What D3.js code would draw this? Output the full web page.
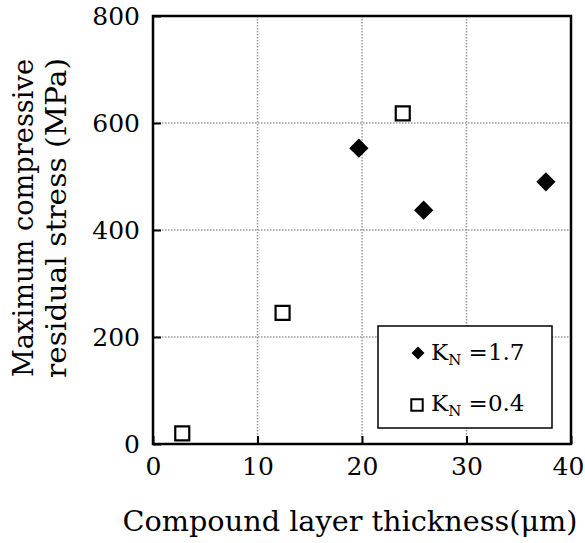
<!DOCTYPE html>
<html>
<head>
<meta charset="utf-8">
<script src="https://cdn.jsdelivr.net/npm/d3@7"></script>
<style>
  body { margin: 0; background: #fff; }
  text { font-family: "DejaVu Serif", "Liberation Serif", serif; fill: #000; }
</style>
</head>
<body>
<div id="chart"></div>
<script>
// Data
const seriesNames = ["K_N=1.7", "K_N=0.4"];
const thickHigh = [19.7, 25.9, 37.6];     // K_N = 1.7 (filled diamonds)
const stressHigh = [553, 437, 490];
const thickLow = [2.8, 12.4, 23.9];       // K_N = 0.4 (open squares)
const stressLow = [20, 245, 618];
const xTicks = [0, 10, 20, 30, 40];
const yTicks = [0, 200, 400, 600, 800];

const W = 585, H = 543;
const margin = { top: 16, right: 14, bottom: 99, left: 153 };
const width = W - margin.left - margin.right;
const height = H - margin.top - margin.bottom;

const svg = d3.select("#chart")
    .append("svg")
    .attr("width", W)
    .attr("height", H);

const g = svg.append("g")
    .attr("transform", `translate(${margin.left},${margin.top})`);

const x = d3.scaleLinear().domain([0, 40]).range([0, width]);
const y = d3.scaleLinear().domain([0, 800]).range([height, 0]);

// Dotted grid
g.selectAll(".gx")
    .data(xTicks.slice(1, -1))
    .enter().append("line")
    .attr("x1", d => x(d)).attr("x2", d => x(d))
    .attr("y1", 0).attr("y2", height)
    .attr("stroke", "#999").attr("stroke-width", 1.5)
    .attr("stroke-dasharray", "1.5,1.5");

g.selectAll(".gy")
    .data(yTicks.slice(1, -1))
    .enter().append("line")
    .attr("x1", 0).attr("x2", width)
    .attr("y1", d => y(d)).attr("y2", d => y(d))
    .attr("stroke", "#999").attr("stroke-width", 1.5)
    .attr("stroke-dasharray", "1.5,1.5");

// Axes (ticks pointing inward)
const xAxis = g.append("g")
    .attr("transform", `translate(0,${height})`)
    .call(d3.axisBottom(x).tickValues(xTicks).tickSizeInner(-8).tickSizeOuter(0).tickPadding(26));
const yAxis = g.append("g")
    .call(d3.axisLeft(y).tickValues(yTicks).tickSizeInner(-8).tickSizeOuter(0).tickPadding(13));

[xAxis, yAxis].forEach(a => {
    a.select(".domain").remove();
    a.selectAll("line").attr("stroke", "#000").attr("stroke-width", 2);
    a.selectAll("text")
        .style("font-family", "\"DejaVu Serif\", serif")
        .style("font-size", "25px")
        .attr("fill", "#000");
});
xAxis.selectAll("text").attr("dy", "0.2em");
// keep the last label inside the page edge
xAxis.selectAll("text").filter(d => d === 40).attr("dx", -3);
yAxis.selectAll("text").attr("dy", "0.35em");

// Frame
g.append("rect")
    .attr("x", 0).attr("y", 0)
    .attr("width", width).attr("height", height)
    .attr("fill", "none")
    .attr("stroke", "#000")
    .attr("stroke-width", 2.5);

// Legend box
const lg = g.append("g").attr("transform", `translate(${378 - margin.left},${326 - margin.top})`);
lg.append("rect")
    .attr("width", 174).attr("height", 102)
    .attr("fill", "#fff").attr("stroke", "#000").attr("stroke-width", 1.5);

const diamond = d3.symbol().type(d3.symbolSquare);
const square = d3.symbol().type(d3.symbolSquare);

// Points: K_N = 1.7
g.selectAll(".hi")
    .data(d3.zip(thickHigh, stressHigh))
    .enter().append("path")
    .attr("d", diamond.size(185)())
    .attr("transform", d => `translate(${x(d[0])},${y(d[1])}) rotate(45)`)
    .attr("fill", "#000");

// Points: K_N = 0.4
g.selectAll(".lo")
    .data(d3.zip(thickLow, stressLow))
    .enter().append("path")
    .attr("d", square.size(196)())
    .attr("transform", d => `translate(${x(d[0])},${y(d[1])})`)
    .attr("fill", "#fff")
    .attr("stroke", "#000")
    .attr("stroke-width", 2.2);

// Legend entries
const legendVals = ["1.7", "0.4"];
legendVals.forEach((v, i) => {
    const yy = 27 + i * 51;
    if (i === 0) {
        lg.append("path")
            .attr("d", d3.symbol().type(d3.symbolSquare).size(85)())
            .attr("transform", `translate(40,${yy}) rotate(45)`)
            .attr("fill", "#000");
    } else {
        lg.append("path")
            .attr("d", d3.symbol().type(d3.symbolSquare).size(130)())
            .attr("transform", `translate(39,${yy + 1})`)
            .attr("fill", "#fff").attr("stroke", "#000").attr("stroke-width", 2);
    }
    const t = lg.append("text")
        .attr("x", 53).attr("y", yy + 7)
        .style("font-size", "23px");
    t.append("tspan").text("K");
    t.append("tspan").attr("dy", 5).style("font-size", "15px").text("N");
    t.append("tspan").attr("dy", -5).text(" =" + v);
});

// Axis titles
svg.append("text")
    .attr("x", 350).attr("y", 531)
    .attr("text-anchor", "middle")
    .attr("textLength", 455).attr("lengthAdjust", "spacingAndGlyphs")
    .style("font-size", "27px")
    .text("Compound layer thickness(μm)");

const yTitle = svg.append("g").attr("transform", "translate(0,218) rotate(-90)");
yTitle.append("text")
    .attr("x", 0).attr("y", 33)
    .attr("text-anchor", "middle")
    .attr("textLength", 318).attr("lengthAdjust", "spacingAndGlyphs")
    .style("font-size", "27px")
    .text("Maximum compressive");
yTitle.append("text")
    .attr("x", 0).attr("y", 66)
    .attr("text-anchor", "middle")
    .attr("textLength", 320).attr("lengthAdjust", "spacingAndGlyphs")
    .style("font-size", "27px")
    .text("residual stress (MPa)");
</script>
</body>
</html>
